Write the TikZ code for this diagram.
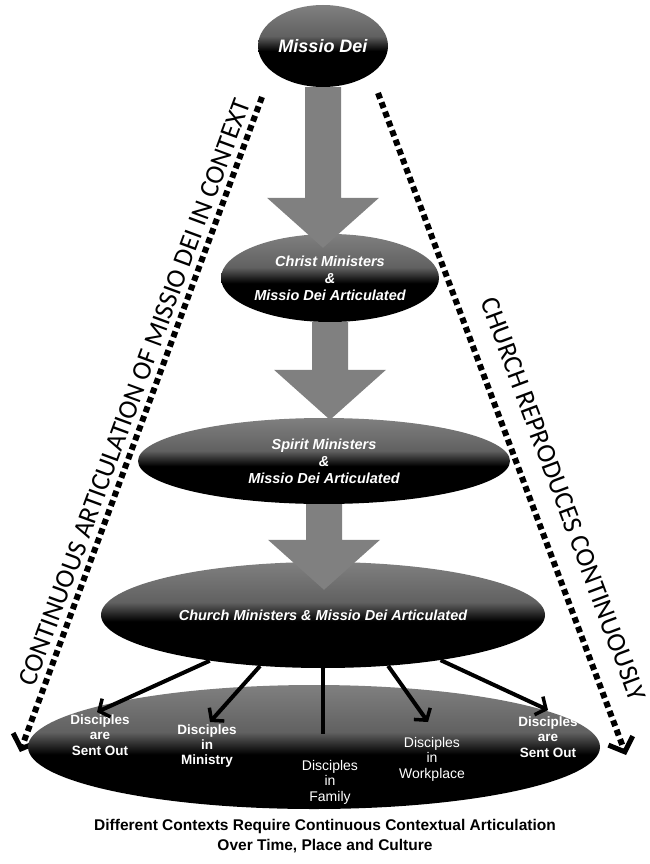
\documentclass[tikz,border=0pt]{standalone}
\usepackage{fontspec}
\setmainfont{Liberation Sans}
\newfontfamily\sidefont{Carlito}
\usetikzlibrary{arrows.meta,shapes.geometric,calc}

\pgfdeclareverticalshading{stageshade}{100bp}{color(0bp)=(black); color(47bp)=(black); color(56bp)=(black!62); color(75bp)=(black!50); color(100bp)=(black!50)}

\tikzset{
  stage/.style={ellipse, shade, shading=stageshade, inner sep=0pt, text=white, align=center,
    font=\bfseries\itshape\fontsize{14.5}{17}\selectfont},
  flow/.style={fill=black!50},
  branch/.style={line width=4pt, -{Straight Barb[length=8pt,width=20pt,line width=3.5pt]}},
  dotline/.style={line width=6pt, dash pattern=on 6pt off 4pt,
    -{Straight Barb[length=12pt,width=26pt,line width=5pt]}},
  sidetext/.style={font=\sidefont\fontsize{27}{27}\selectfont, sloped, anchor=south},
  leaf/.style={text=white, align=center, font=\bfseries\fontsize{13.5}{15.5}\selectfont}
}

\begin{document}
\begin{tikzpicture}[x=1pt, y=-1pt]
\useasboundingbox (0,0) rectangle (650,864);

% dotted side lines
\coordinate (ltop) at (262,97);
\coordinate (lend) at (20,752);
\coordinate (rtop) at (378,93);
\coordinate (rend) at (626,755);
\draw[dotline] (ltop) -- (lend);
\draw[dotline] (rtop) -- (rend);
\path (lend) -- (ltop) node[sidetext, pos=0.54, inner ysep=8pt] (leftlabel) {CONTINUOUS ARTICULATION OF MISSIO DEI IN CONTEXT};
\path (rtop) -- (rend) node[sidetext, pos=0.63, inner ysep=22pt] (rightlabel) {CHURCH REPRODUCES CONTINUOUSLY};

% stages
\node[stage, minimum width=130, minimum height=82, font=\bfseries\itshape\fontsize{18}{20}\selectfont] (dei) at (323,46) {Missio Dei};
\node[stage, minimum width=218, minimum height=88] (christ) at (330,278) {Christ Ministers\\\&\\Missio Dei Articulated};
\node[stage, minimum width=372, minimum height=86] (spirit) at (324,461) {Spirit Ministers\\\&\\Missio Dei Articulated};
\node[stage, minimum width=444, minimum height=106] (church) at (323,615) {Church Ministers \& Missio Dei Articulated};
\node[stage, minimum width=572, minimum height=124] (disciples) at (314,747) {};

% big arrows between stages
\foreach \a/\b/\d in {dei/christ/14, christ/spirit/2, spirit/church/28}
  \fill[flow] let \p1=(\a.south), \p2=(\b.north) in
    (\x1-18pt,\y1) -- (\x1+18pt,\y1) -- (\x1+18pt,\y2+50pt-\d pt) -- (\x1+56pt,\y2+50pt-\d pt)
    -- (\x1,\y2-\d pt) -- (\x1-56pt,\y2+50pt-\d pt) -- (\x1-18pt,\y2+50pt-\d pt) -- cycle;

% contexts
\node[leaf] (sent1) at (100,735) {Disciples\\are\\Sent Out};
\node[leaf] (ministry) at (207,746) {Disciples\\in\\Ministry};
\node[leaf, font=\fontsize{14}{15.5}\selectfont] (family) at (330,782) {Disciples\\in\\Family};
\node[leaf, font=\fontsize{14}{15.5}\selectfont] (workplace) at (432,759) {Disciples\\in\\Workplace};
\node[leaf] (sent2) at (548,737) {Disciples\\are\\Sent Out};

\coordinate (b1) at (97,712);
\coordinate (b2) at (210,722);
\coordinate (b3) at (323,734);
\coordinate (b4) at (428,722);
\coordinate (b5) at (548,710);
\draw[branch] (church.-158) -- (b1);
\draw[branch] (church.-141) -- (b2);
\draw[line width=4pt] (church.-90) -- (b3);
\draw[branch] (church.-38) -- (b4);
\draw[branch] (church.-21) -- (b5);

\node[font=\bfseries\fontsize{15.5}{20}\selectfont, align=center] (caption) at (325,836) {Different Contexts Require Continuous Contextual Articulation\\Over Time, Place and Culture};
\end{tikzpicture}
\end{document}
